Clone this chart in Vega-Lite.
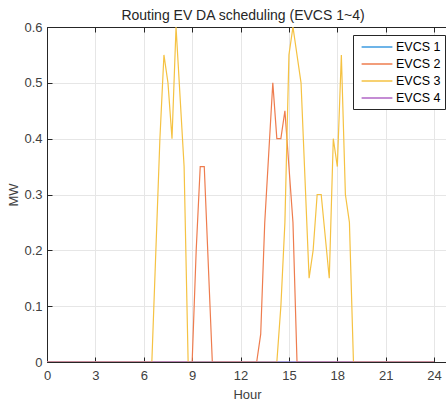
{
  "$schema": "https://vega.github.io/schema/vega-lite/v6.json",
  "width": 400,
  "height": 335,
  "autosize": {"type": "none"},
  "padding": {"left": 47, "top": 27, "right": 0, "bottom": 40},
  "background": "white",
  "title": {"text": "Routing EV DA scheduling (EVCS 1~4)", "fontSize": 14, "fontWeight": "normal", "font": "Liberation Sans", "color": "#262626", "offset": -2, "dx": -4},
  "config": {
    "font": "Liberation Sans",
    "view": {"stroke": "#262626", "strokeWidth": 1},
    "axis": {"labelFont": "Liberation Sans", "titleFont": "Liberation Sans", "labelFontSize": 13, "titleFontSize": 13, "titleFontWeight": "normal", "labelColor": "#404040", "titleColor": "#404040", "domainColor": "#262626", "tickColor": "#262626", "gridColor": "#e6e6e6", "tickSize": -5}
  },
  "data": {"values": [
    {"h": 0, "v": 0, "s": "EVCS 1"}, {"h": 24, "v": 0, "s": "EVCS 1"},
    {"h": 0, "v": 0, "s": "EVCS 2"}, {"h": 9, "v": 0, "s": "EVCS 2"}, {"h": 9.25, "v": 0.2, "s": "EVCS 2"}, {"h": 9.5, "v": 0.35, "s": "EVCS 2"}, {"h": 9.75, "v": 0.35, "s": "EVCS 2"}, {"h": 10.25, "v": 0, "s": "EVCS 2"}, {"h": 13, "v": 0, "s": "EVCS 2"}, {"h": 13.25, "v": 0.05, "s": "EVCS 2"}, {"h": 13.5, "v": 0.25, "s": "EVCS 2"}, {"h": 14, "v": 0.5, "s": "EVCS 2"}, {"h": 14.25, "v": 0.4, "s": "EVCS 2"}, {"h": 14.5, "v": 0.4, "s": "EVCS 2"}, {"h": 14.75, "v": 0.45, "s": "EVCS 2"}, {"h": 15.25, "v": 0.25, "s": "EVCS 2"}, {"h": 15.5, "v": 0, "s": "EVCS 2"}, {"h": 24, "v": 0, "s": "EVCS 2"},
    {"h": 0, "v": 0, "s": "EVCS 3"}, {"h": 6.5, "v": 0, "s": "EVCS 3"}, {"h": 7, "v": 0.4, "s": "EVCS 3"}, {"h": 7.25, "v": 0.55, "s": "EVCS 3"}, {"h": 7.5, "v": 0.5, "s": "EVCS 3"}, {"h": 7.75, "v": 0.4, "s": "EVCS 3"}, {"h": 8, "v": 0.6, "s": "EVCS 3"}, {"h": 8.5, "v": 0.35, "s": "EVCS 3"}, {"h": 8.75, "v": 0, "s": "EVCS 3"}, {"h": 14.25, "v": 0, "s": "EVCS 3"}, {"h": 14.5, "v": 0.1, "s": "EVCS 3"}, {"h": 14.75, "v": 0.25, "s": "EVCS 3"}, {"h": 15, "v": 0.55, "s": "EVCS 3"}, {"h": 15.25, "v": 0.6, "s": "EVCS 3"}, {"h": 15.75, "v": 0.5, "s": "EVCS 3"}, {"h": 16.25, "v": 0.15, "s": "EVCS 3"}, {"h": 16.5, "v": 0.2, "s": "EVCS 3"}, {"h": 16.75, "v": 0.3, "s": "EVCS 3"}, {"h": 17, "v": 0.3, "s": "EVCS 3"}, {"h": 17.5, "v": 0.15, "s": "EVCS 3"}, {"h": 17.75, "v": 0.4, "s": "EVCS 3"}, {"h": 18, "v": 0.35, "s": "EVCS 3"}, {"h": 18.25, "v": 0.55, "s": "EVCS 3"}, {"h": 18.5, "v": 0.3, "s": "EVCS 3"}, {"h": 18.75, "v": 0.25, "s": "EVCS 3"}, {"h": 19, "v": 0, "s": "EVCS 3"}, {"h": 24, "v": 0, "s": "EVCS 3"},
    {"h": 0, "v": 0, "s": "EVCS 4"}, {"h": 24, "v": 0, "s": "EVCS 4"}
  ]},
  "layer": [
    {
      "mark": {"type": "line", "strokeWidth": 1.2, "clip": true},
      "encoding": {
        "x": {"field": "h", "type": "quantitative", "scale": {"domain": [0, 24.8], "nice": false, "zero": false}, "axis": {"values": [0, 3, 6, 9, 12, 15, 18, 21, 24], "title": "Hour", "labelPadding": 12, "titlePadding": 6, "labelFlush": false}},
        "y": {"field": "v", "type": "quantitative", "scale": {"domain": [0, 0.6], "nice": false}, "axis": {"values": [0, 0.1, 0.2, 0.3, 0.4, 0.5, 0.6], "format": "~g", "title": "MW", "labelPadding": 10, "titlePadding": 3, "labelFlush": false}},
        "color": {"field": "s", "type": "nominal", "scale": {"domain": ["EVCS 1", "EVCS 2", "EVCS 3", "EVCS 4"], "range": ["#3C9BE0", "#EE7C4E", "#F5C242", "#B066C6"]},
          "legend": {"title": null, "orient": "none", "legendX": 306, "legendY": 8, "symbolType": "M-2.2,0H2.2", "symbolSize": 196, "symbolStrokeWidth": 1.5, "labelFontSize": 12.5, "labelColor": "#000000", "labelFont": "Liberation Sans", "strokeColor": "#262626", "fillColor": "white", "padding": 4, "rowPadding": 2, "labelOffset": 11, "symbolOffset": 12}}
      }
    },
    {
      "mark": {"type": "line", "opacity": 0},
      "encoding": {
        "x": {"field": "h", "type": "quantitative", "axis": {"orient": "top", "values": [0, 3, 6, 9, 12, 15, 18, 21, 24], "labels": false, "title": null, "grid": false}},
        "y": {"field": "v", "type": "quantitative"}
      }
    }
  ],
  "resolve": {"axis": {"x": "independent"}}
}
